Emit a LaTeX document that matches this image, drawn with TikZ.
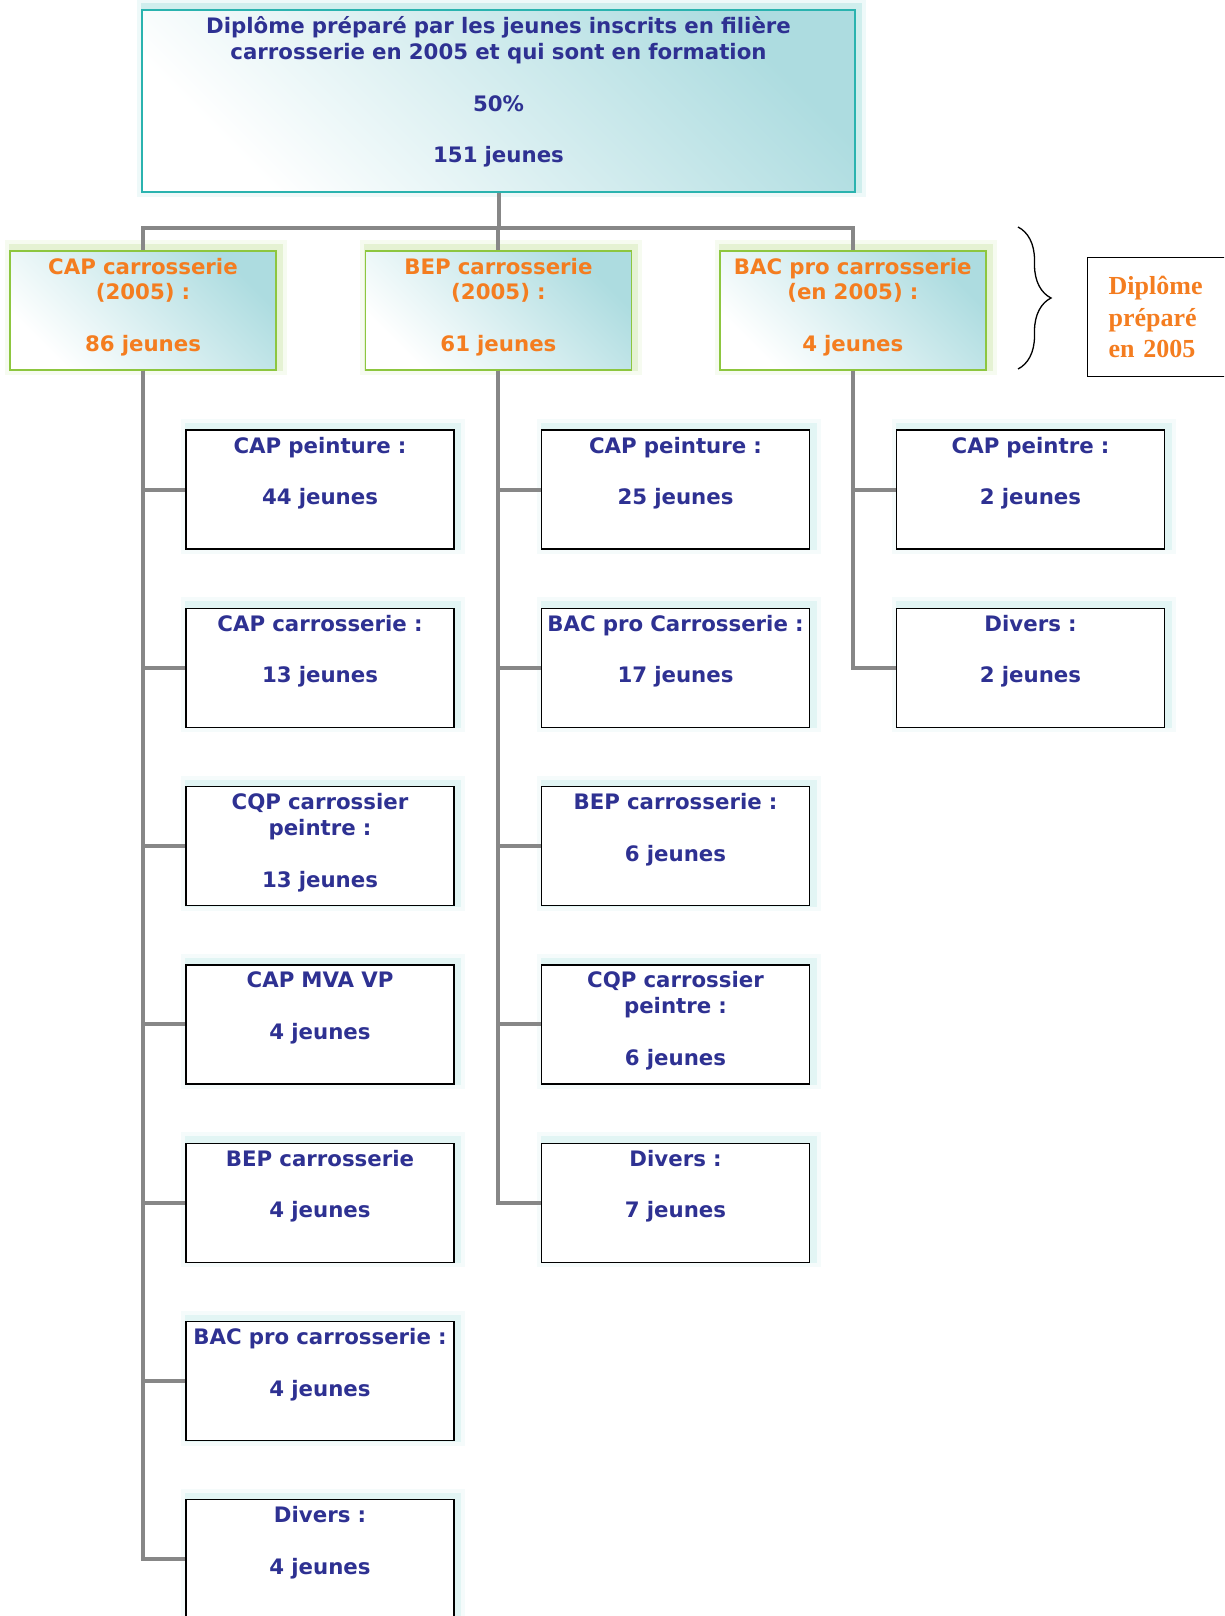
\documentclass[tikz,border=0pt]{standalone}
\usepackage{fontspec}
\setmainfont{DejaVu Sans}
\newfontfamily\notefont{Liberation Serif}
\usepackage{tikz}
\usetikzlibrary{positioning,calc,decorations.pathreplacing}
\definecolor{navy}{HTML}{2E3192}
\definecolor{orng}{HTML}{F47D20}
\definecolor{tealb}{HTML}{2AB3AF}
\definecolor{leaf}{HTML}{8DC63F}
\definecolor{wire}{HTML}{878787}
\definecolor{mist}{HTML}{ADDCE0}
\tikzset{
  glow/.style={preaction={draw=#1, line width=16pt, draw opacity=0.08,
               transform canvas={shift={(3pt,3pt)}}},
               preaction={draw=#1, line width=8pt, draw opacity=0.16,
               transform canvas={shift={(3pt,3pt)}}}},
  txt/.style={font=\bfseries\fontsize{21.3}{25.8}\selectfont, align=center,
              inner xsep=2pt, inner ysep=3pt},
  topb/.style={txt, draw=tealb, line width=1.2pt, glow=tealb,
               left color=white, right color=mist, shading angle=135,
               minimum width=713pt, text width=705pt,
               text height=21pt, text depth=155pt, text=navy},
  lvb/.style={txt, draw=leaf, line width=1.4pt, glow=leaf,
              left color=white, right color=mist, shading angle=135,
              minimum width=266pt, text width=262pt,
              text height=20pt, text depth=93pt, text=orng},
  kid/.style={txt, draw=black, line width=1.3pt, glow=tealb!60,
              fill=white, minimum width=268pt, text width=264pt,
              text height=20pt, text depth=93pt, text=navy},
  note/.style={draw=black, line width=1.3pt, fill=white, anchor=north west,
               minimum width=150pt, minimum height=119pt, text width=108pt,
               align=left, inner xsep=21pt, text=orng,
               font=\notefont\bfseries\fontsize{26}{31.4}\selectfont},
  conn/.style={draw=wire, line width=4pt},
  brc/.style={draw=black, line width=1.3pt,
              decorate, decoration={brace, amplitude=33pt}},
}

\begin{document}
\begin{tikzpicture}[x=1pt, y=-1pt]
\clip (0,0) rectangle (1224,1616);
\useasboundingbox (0,0) rectangle (1224,1616);

% sommet
\node[topb] (top) at (498.5,101) {Diplôme préparé par les jeunes inscrits en filière\\
  carrosserie en 2005 et qui sont en formation\\[25.8pt]50\%\\[25.8pt]151 jeunes};

% diplomes 2005
\node[lvb] (cap) at (143,310.5) {CAP carrosserie\\(2005) :\\[25.8pt]86 jeunes};
\node[lvb, right=88pt of cap] (bep) {BEP carrosserie\\(2005) :\\[25.8pt]61 jeunes};
\node[lvb, right=87pt of bep] (bac) {BAC pro carrosserie\\(en 2005) :\\[25.8pt]4 jeunes};

\coordinate (split) at ($(top.south)+(0,35)$);
\draw[conn] (top.south) -- (split) -| (cap.north);
\draw[conn] (split) -| (bep.north);
\draw[conn] (split) -| (bac.north);

% accolade + note
\coordinate (bt) at (1018,227);
\coordinate (bb) at (1018,369);
\draw[brc] (bt) -- (bb);
\node[note] (nt) at (1087,257) {Diplôme\\préparé\\en 2005};

% issus du CAP
\node[kid] (a1) at (320,489.5) {CAP peinture :\\[25.8pt]44 jeunes};
\node[kid, below=58pt of a1] (a2) {CAP carrosserie :\\[25.8pt]13 jeunes};
\node[kid, below=58pt of a2] (a3) {CQP carrossier\\peintre :\\[25.8pt]13 jeunes};
\node[kid, below=58pt of a3] (a4) {CAP MVA VP\\[25.8pt]4 jeunes};
\node[kid, below=58pt of a4] (a5) {BEP carrosserie\\[25.8pt]4 jeunes};
\node[kid, below=58pt of a5] (a6) {BAC pro carrosserie :\\[25.8pt]4 jeunes};
\node[kid, below=58pt of a6] (a7) {Divers :\\[25.8pt]4 jeunes};

% issus du BEP
\node[kid] (b1) at (675.5,489.5) {CAP peinture :\\[25.8pt]25 jeunes};
\node[kid, below=58pt of b1] (b2) {BAC pro Carrosserie :\\[25.8pt]17 jeunes};
\node[kid, below=58pt of b2] (b3) {BEP carrosserie :\\[25.8pt]6 jeunes};
\node[kid, below=58pt of b3] (b4) {CQP carrossier\\peintre :\\[25.8pt]6 jeunes};
\node[kid, below=58pt of b4] (b5) {Divers :\\[25.8pt]7 jeunes};

% issus du BAC pro
\node[kid] (c1) at (1030.5,489.5) {CAP peintre :\\[25.8pt]2 jeunes};
\node[kid, below=58pt of c1] (c2) {Divers :\\[25.8pt]2 jeunes};

\foreach \k in {a1,a2,a3,a4,a5,a6,a7}
  \draw[conn] (cap.south) |- (\k.west);
\foreach \k in {b1,b2,b3,b4,b5}
  \draw[conn] (bep.south) |- (\k.west);
\foreach \k in {c1,c2}
  \draw[conn] (bac.south) |- (\k.west);
\end{tikzpicture}
\end{document}
